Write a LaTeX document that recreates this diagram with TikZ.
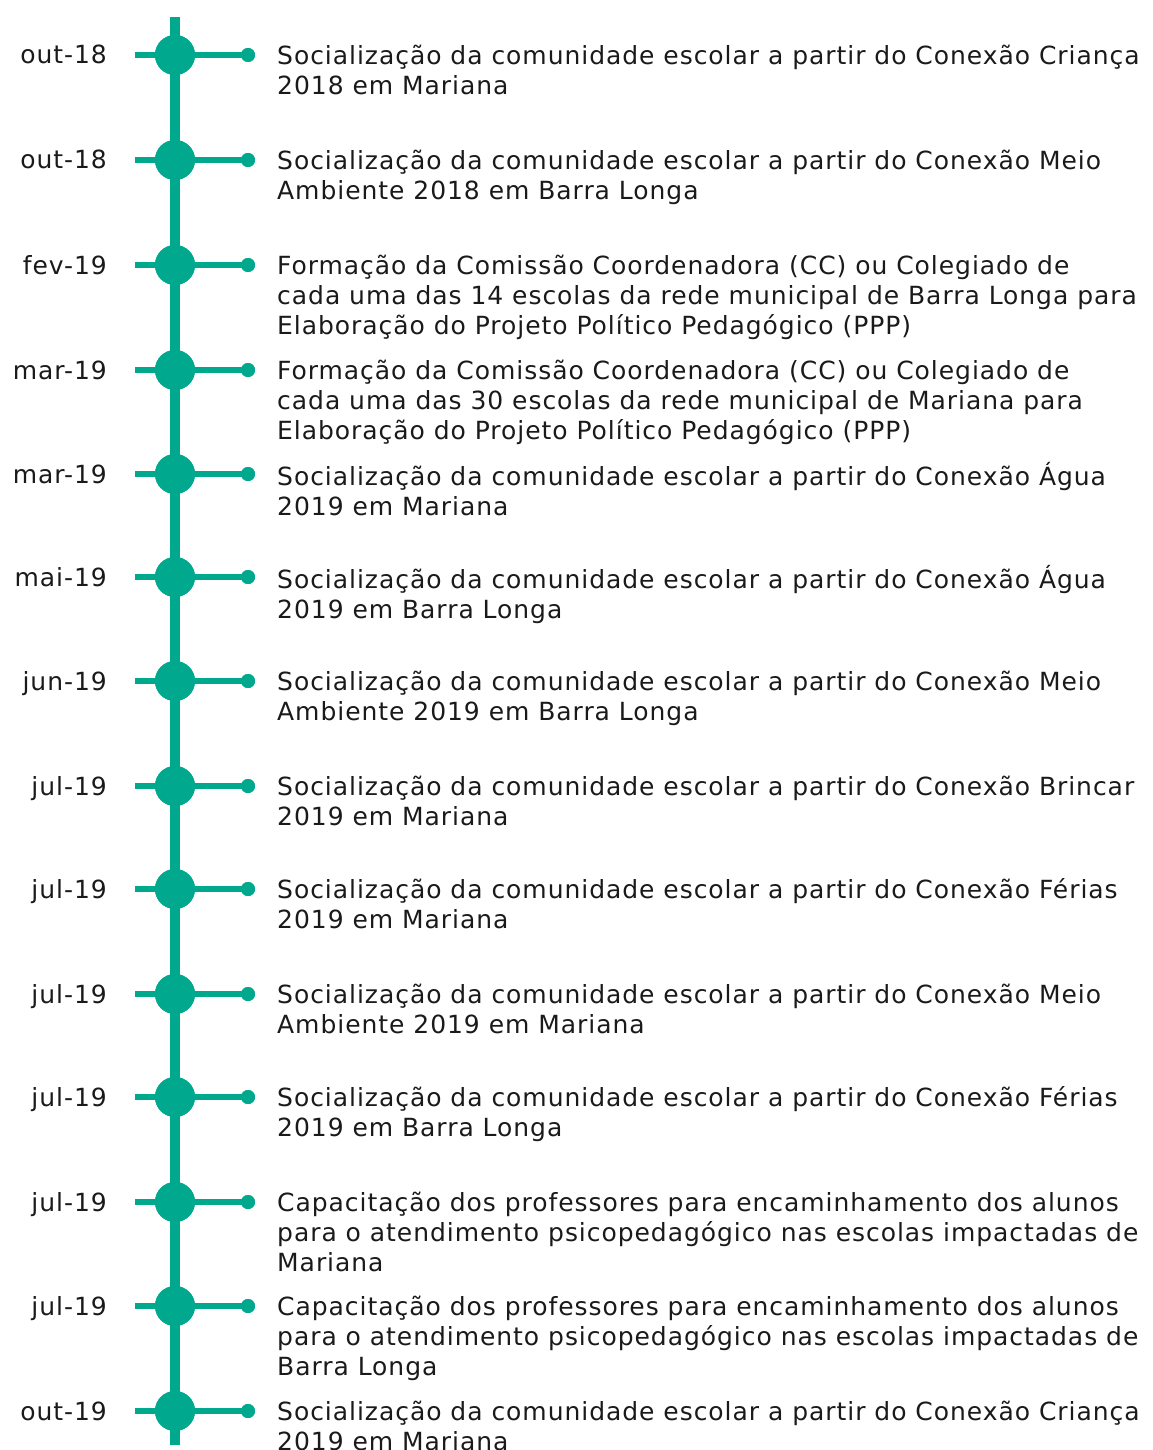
\documentclass[tikz,border=0pt]{standalone}
\usepackage{fontspec}
\setmainfont{DejaVu Sans}[LetterSpace=3.8]
\definecolor{teal1}{HTML}{00A88E}
\definecolor{txt}{HTML}{1A1A1A}
\begin{document}
\begin{tikzpicture}[x=1pt,y=-1pt,
  spine/.style={draw=teal1,line width=10pt},
  tick/.style={draw=teal1,line width=5.5pt},
  bigdot/.style={circle,fill=teal1,minimum size=40pt,inner sep=0pt},
  smalldot/.style={circle,fill=teal1,minimum size=14pt,inner sep=0pt},
  datelbl/.style={anchor=base east,inner sep=0pt,text=txt,font=\fontsize{25}{30}\selectfont},
  desc/.style={anchor=north west,inner sep=0pt,text=txt,align=left,font=\fontsize{25}{30}\selectfont}
]
\useasboundingbox (0,0) rectangle (1152,1450);
\coordinate (top) at (175,17);
\coordinate (bot) at (175,1445);
\draw[spine] (top) -- (bot);
\foreach \y/\d/\t [count=\i] in {
 55/out-18/{Socialização da comunidade escolar a partir do Conexão Criança\\2018 em Mariana},
 160/out-18/{Socialização da comunidade escolar a partir do Conexão Meio\\Ambiente 2018 em Barra Longa},
 265/fev-19/{Formação da Comissão Coordenadora (CC) ou Colegiado de\\cada uma das 14 escolas da rede municipal de Barra Longa para\\Elaboração do Projeto Político Pedagógico (PPP)},
 370/mar-19/{Formação da Comissão Coordenadora (CC) ou Colegiado de\\cada uma das 30 escolas da rede municipal de Mariana para\\Elaboração do Projeto Político Pedagógico (PPP)},
 474/mar-19/{Socialização da comunidade escolar a partir do Conexão Água\\2019 em Mariana},
 577/mai-19/{Socialização da comunidade escolar a partir do Conexão Água\\2019 em Barra Longa},
 681/jun-19/{Socialização da comunidade escolar a partir do Conexão Meio\\Ambiente 2019 em Barra Longa},
 786/jul-19/{Socialização da comunidade escolar a partir do Conexão Brincar\\2019 em Mariana},
 889/jul-19/{Socialização da comunidade escolar a partir do Conexão Férias\\2019 em Mariana},
 994/jul-19/{Socialização da comunidade escolar a partir do Conexão Meio\\Ambiente 2019 em Mariana},
 1097/jul-19/{Socialização da comunidade escolar a partir do Conexão Férias\\2019 em Barra Longa},
 1202/jul-19/{Capacitação dos professores para encaminhamento dos alunos\\para o atendimento psicopedagógico nas escolas impactadas de\\Mariana},
 1306/jul-19/{Capacitação dos professores para encaminhamento dos alunos\\para o atendimento psicopedagógico nas escolas impactadas de\\Barra Longa},
 1411/out-19/{Socialização da comunidade escolar a partir do Conexão Criança\\2019 em Mariana}}
{
  \coordinate (l\i) at (135,\y);
  \node[bigdot] (c\i) at (175,\y) {};
  \node[smalldot] (s\i) at (248,\y) {};
  \draw[tick] (l\i) -- (s\i.center);
  \node[bigdot] at (c\i) {};
  \node[smalldot] at (s\i) {};
  \node[datelbl] (d\i) at (107,\y+9) {\d};
  \node[desc] (t\i) at (277,\y-12) {\strut\t};
}
\end{tikzpicture}
\end{document}
